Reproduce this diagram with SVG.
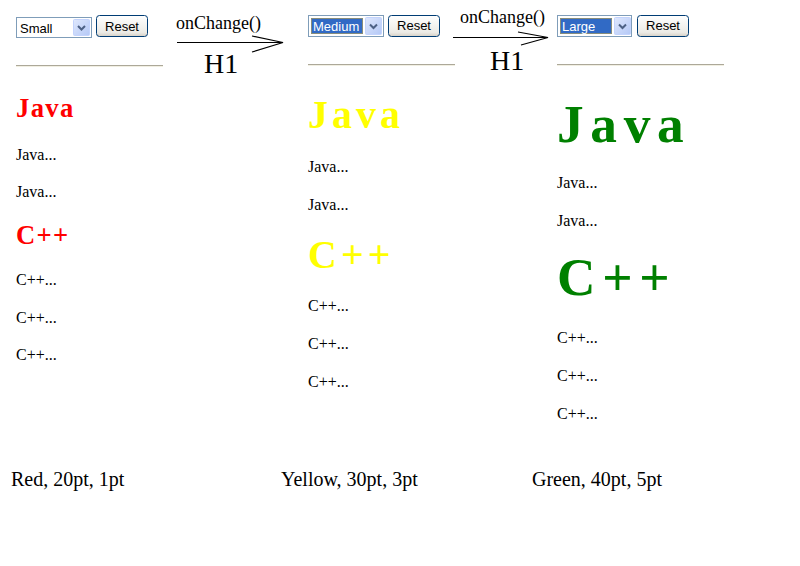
<svg xmlns="http://www.w3.org/2000/svg" width="800" height="566" viewBox="0 0 800 566">
<defs>
<linearGradient id="btn" x1="0" y1="0" x2="0" y2="1"><stop offset="0" stop-color="#ffffff"/><stop offset="0.8" stop-color="#ecebe6"/><stop offset="1" stop-color="#d6d0c5"/></linearGradient>
<linearGradient id="drop" x1="0" y1="0" x2="1" y2="1"><stop offset="0" stop-color="#dfe8fd"/><stop offset="1" stop-color="#b4c8f6"/></linearGradient>
<g id="chev"><path d="M-3.5,-1.5 L0,2 L3.5,-1.5" fill="none" stroke="#4d6185" stroke-width="2"/></g>
</defs>
<style>
.sel{fill:#fff;stroke:#7f9db9;stroke-width:1}
.dbtn{fill:url(#drop);stroke:#c3d3fd;stroke-width:1}
.rbtn{fill:url(#btn);stroke:#003c74;stroke-width:1}
.ui{font-family:"Liberation Sans",Arial,sans-serif;font-size:13px;fill:#000}
.hl{fill:#316ac5}
.sep{stroke:#aca899;stroke-width:1}
.sep2{stroke:#f1efe2;stroke-width:1}
.h1{font-family:"Liberation Serif","Times New Roman",serif;font-weight:bold}
.body{font-family:"Liberation Serif","Times New Roman",serif;font-size:16px;fill:#000}
.lbl{font-family:"Liberation Serif","Times New Roman",serif;font-size:20px;fill:#000}
.conn{stroke:#000;stroke-width:1.2;fill:none}
.ctext{font-family:"Liberation Serif","Times New Roman",serif;font-size:18px;fill:#000}
.htext{font-family:"Liberation Serif","Times New Roman",serif;font-size:28px;fill:#000}
</style>
<rect width="800" height="566" fill="#fff"/>

<g id="panel-small">
<rect class="sel" x="16.5" y="17.5" width="75" height="20"/>
<rect class="dbtn" x="73.5" y="19.5" width="16" height="16" rx="1"/>
<use href="#chev" x="81.5" y="27.5"/>
<text class="ui" x="20" y="33">Small</text>
<rect class="rbtn" x="96.5" y="15.5" width="51" height="21" rx="3"/>
<text class="ui" x="122" y="31" text-anchor="middle">Reset</text>
<line class="sep" x1="16" y1="65.5" x2="163" y2="65.5"/>
<line class="sep2" x1="16" y1="66.5" x2="163" y2="66.5"/>
<text class="h1" x="16" y="117" font-size="26.67" letter-spacing="1.33" fill="#ff0000">Java</text>
<text class="body" x="16" y="160">Java...</text>
<text class="body" x="16" y="197">Java...</text>
<text class="h1" x="16" y="244" font-size="26.67" letter-spacing="1.33" fill="#ff0000">C++</text>
<text class="body" x="16" y="285">C++...</text>
<text class="body" x="16" y="323">C++...</text>
<text class="body" x="16" y="360">C++...</text>
<text class="lbl" x="11" y="486">Red, 20pt, 1pt</text>
</g>

<g id="panel-medium">
<rect class="sel" x="308.5" y="15.5" width="75" height="21"/>
<rect class="hl" x="311" y="18" width="52" height="16"/>
<rect x="311.5" y="18.5" width="51" height="15" fill="none" stroke="#e0b030" stroke-width="1" stroke-dasharray="1,1"/>
<rect class="dbtn" x="365.5" y="17.5" width="16" height="17" rx="1"/>
<use href="#chev" x="373.5" y="26"/>
<text class="ui" x="313" y="31" style="fill:#fff">Medium</text>
<rect class="rbtn" x="388.5" y="15.5" width="51" height="21" rx="3"/>
<text class="ui" x="414" y="30" text-anchor="middle">Reset</text>
<line class="sep" x1="308" y1="64.5" x2="455" y2="64.5"/>
<line class="sep2" x1="308" y1="65.5" x2="455" y2="65.5"/>
<text class="h1" x="308" y="128" font-size="40" letter-spacing="4" fill="#ffff00">Java</text>
<text class="body" x="308" y="172">Java...</text>
<text class="body" x="308" y="210">Java...</text>
<text class="h1" x="308" y="268" font-size="40" letter-spacing="4" fill="#ffff00">C++</text>
<text class="body" x="308" y="311">C++...</text>
<text class="body" x="308" y="349">C++...</text>
<text class="body" x="308" y="387">C++...</text>
<text class="lbl" x="281" y="486">Yellow, 30pt, 3pt</text>
</g>

<g id="panel-large">
<rect class="sel" x="557.5" y="15.5" width="74" height="21"/>
<rect class="hl" x="560" y="18" width="52" height="16"/>
<rect x="560.5" y="18.5" width="51" height="15" fill="none" stroke="#e0b030" stroke-width="1" stroke-dasharray="1,1"/>
<rect class="dbtn" x="614.5" y="17.5" width="16" height="17" rx="1"/>
<use href="#chev" x="622.5" y="26"/>
<text class="ui" x="562" y="31" style="fill:#fff">Large</text>
<rect class="rbtn" x="637.5" y="15.5" width="51" height="21" rx="3"/>
<text class="ui" x="663" y="30" text-anchor="middle">Reset</text>
<line class="sep" x1="557" y1="64.5" x2="724" y2="64.5"/>
<line class="sep2" x1="557" y1="65.5" x2="724" y2="65.5"/>
<text class="h1" x="557" y="142" font-size="53.33" letter-spacing="6.67" fill="#008000">Java</text>
<text class="body" x="557" y="188">Java...</text>
<text class="body" x="557" y="226">Java...</text>
<text class="h1" x="557" y="295" font-size="53.33" letter-spacing="6.67" fill="#008000">C++</text>
<text class="body" x="557" y="343">C++...</text>
<text class="body" x="557" y="381">C++...</text>
<text class="body" x="557" y="419">C++...</text>
<text class="lbl" x="532" y="486">Green, 40pt, 5pt</text>
</g>

<g id="connectors">
<g id="arrow1">
<line class="conn" x1="177" y1="42.5" x2="283" y2="42.5"/>
<polyline class="conn" points="252,36 283,42.5 252,52"/>
<text class="ctext" x="176" y="29">onChange()</text>
<text class="htext" x="204" y="73">H1</text>
</g>
<g id="arrow2">
<line class="conn" x1="453" y1="37.5" x2="548" y2="37.5"/>
<polyline class="conn" points="518,32 548,37.5 521,45"/>
<text class="ctext" x="460" y="23">onChange()</text>
<text class="htext" x="490" y="70">H1</text>
</g>
</g>
</svg>
